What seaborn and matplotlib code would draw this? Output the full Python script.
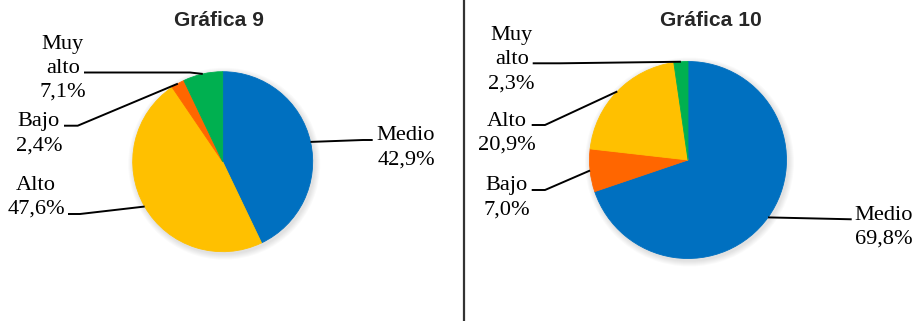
import matplotlib
matplotlib.use("Agg")
import matplotlib.pyplot as plt
from matplotlib.patches import Circle
import numpy as np
import seaborn as sns

sns.set_theme(style="white")
plt.rcParams["font.family"] = ["Liberation Serif", "DejaVu Serif"]

# ---- data -------------------------------------------------------------
titles = ["Gráfica 9", "Gráfica 10"]

levels_9 = ["Medio", "Alto", "Bajo", "Muy alto"]
shares_9 = [42.9, 47.6, 2.4, 7.1]

levels_10 = ["Medio", "Bajo", "Alto", "Muy alto"]
shares_10 = [69.8, 7.0, 20.9, 2.3]

label_text = {"Medio": "Medio", "Alto": "Alto", "Bajo": "Bajo", "Muy alto": "Muy\nalto"}
level_colors = {"Medio": "#0070C0", "Alto": "#FFC000",
                "Bajo": "#FF6600", "Muy alto": "#00B050"}

# ---- layout (pixel units, origin top-left) ------------------------------
W, H = 916, 321
DPI = 100
TEXT_DY = 2.5  # nudge so the glyph block sits where the leaders expect

pies = [
    dict(title=titles[0], levels=levels_9, shares=shares_9,
         center=(222.7, 161.7), radius=90, title_xy=(219.2, 26),
         # text centre, elbow point, start of the leader next to the text
         labels={"Medio": ((406, 145.5), (363, 140), 372.7),
                 "Alto": ((36, 195), (80, 214), 68),
                 "Bajo": ((39, 131.5), (77.7, 125.7), 64),
                 "Muy alto": ((63, 66), (190, 72.5), 84)},
         anchor_angle={"Medio": 12.7}),
    dict(title=titles[1], levels=levels_10, shares=shares_10,
         center=(688.0, 160.0), radius=98.5, title_xy=(710.8, 26),
         labels={"Medio": ((884, 224.8), (851.7, 219.3), 851.7),
                 "Bajo": ((506.7, 195.5), (545, 190), 531.7),
                 "Alto": ((506.7, 130.8), (545, 125), 531.7),
                 "Muy alto": ((511.7, 57.3), (560, 63.3), 532.7)},
         anchor_angle={}),
]

fig = plt.figure(figsize=(W / DPI, H / DPI), dpi=DPI)
ax = fig.add_axes([0, 0, 1, 1])


def fy(y):
    """Flip a top-down pixel row into the axes' bottom-up coordinate."""
    return H - y


for spec in pies:
    cx, cy = spec["center"]
    r = spec["radius"]
    colors = [level_colors[lv] for lv in spec["levels"]]

    # soft drop shadow behind the pie
    for k in range(1, 7):
        ax.add_patch(Circle((cx + 1.5, fy(cy) - 2), r + k, color="black",
                            alpha=0.018, lw=0, zorder=0.5))

    wedges, _ = ax.pie(spec["shares"], colors=colors, startangle=90,
                       counterclock=False, center=(cx, fy(cy)), radius=r,
                       wedgeprops=dict(linewidth=0.6))
    for w in wedges:
        w.set_edgecolor(w.get_facecolor())
        w.set_zorder(1)

    for lv, share, w in zip(spec["levels"], spec["shares"], wedges):
        (tx, ty), (ex, ey), sx = spec["labels"][lv]
        ang = spec["anchor_angle"].get(lv, 0.5 * (w.theta1 + w.theta2))
        ax_x = cx + r * np.cos(np.radians(ang))
        ax_y = fy(cy) + r * np.sin(np.radians(ang))
        ax.plot([sx, ex, ax_x], [fy(ey), fy(ey), ax_y], color="black",
                lw=1.4, solid_capstyle="butt", zorder=3)
        txt = f"{label_text[lv]}\n{share:.1f}%".replace(".", ",")
        ax.text(tx, fy(ty + TEXT_DY), txt, ha="center", va="center",
                multialignment="center", fontsize=16.1, linespacing=1.36,
                color="black", zorder=4)

    tx, ty = spec["title_xy"]
    ax.text(tx, fy(ty), spec["title"], ha="center", va="baseline",
            fontsize=15.1, fontweight="bold", family="Liberation Sans",
            color="#262626")

# divider between the two charts
ax.plot([463.5, 463.5], [0, H], color="#333333", lw=1.6, zorder=5)

ax.set_xlim(0, W)
ax.set_ylim(0, H)
ax.set_aspect("auto")
ax.axis("off")

fig.savefig("out.png", dpi=DPI)
